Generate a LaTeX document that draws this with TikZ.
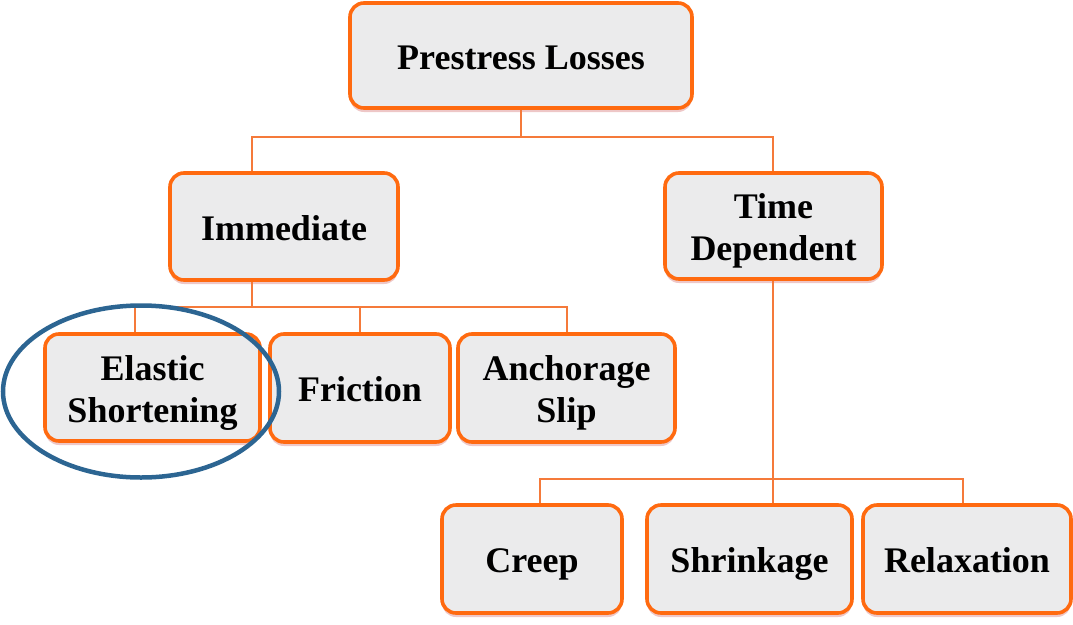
\documentclass[tikz,border=0pt]{standalone}
\usepackage{fontspec}
\setmainfont{Liberation Serif}
\usetikzlibrary{shadows}
\definecolor{boxorange}{HTML}{FF6A10}
\definecolor{lineorange}{HTML}{F57A3A}
\definecolor{boxfill}{HTML}{EBEBEC}
\definecolor{ringblue}{HTML}{2C6592}
\newcommand\tline[1]{\smash{#1}\rule[-1pt]{0pt}{29pt}}
\tikzset{
  box/.style={draw=boxorange, line width=3.6pt, fill=boxfill, rounded corners=14pt,
    align=center, inner sep=0pt, font=\fontsize{36}{42}\selectfont\bfseries,
    drop shadow={shadow xshift=0pt, shadow yshift=-4pt, fill=red!70!black, opacity=0.22}},
  conn/.style={draw=lineorange, line width=1.8pt},
  ring/.style={draw=ringblue, line width=4.5pt}
}
\begin{document}
\begin{tikzpicture}[x=1pt,y=-1pt]
\useasboundingbox (0,0) rectangle (1073,624);
% nodes
\node[box, minimum width=342pt, minimum height=105pt] (pl) at (521,55.5) {\tline{Prestress Losses}};
\node[box, minimum width=228pt, minimum height=107pt] (imm) at (284,226.5) {\tline{Immediate}};
\node[box, minimum width=217pt, minimum height=106pt] (td) at (773.5,226) {\tline{Time}\\\tline{Dependent}};
\node[box, minimum width=215pt, minimum height=107pt] (es) at (152.5,387.5) {\tline{Elastic}\\\tline{Shortening}};
\node[box, minimum width=180pt, minimum height=108pt] (fr) at (360,388) {\tline{Friction}};
\node[box, minimum width=217pt, minimum height=108pt] (as) at (566.5,388) {\tline{Anchorage}\\\tline{Slip}};
\node[box, minimum width=180pt, minimum height=108pt] (cr) at (532,559) {\tline{Creep}};
\node[box, minimum width=205pt, minimum height=108pt] (sh) at (749.5,559) {\tline{Shrinkage}};
\node[box, minimum width=208pt, minimum height=108pt] (rl) at (967,559) {\tline{Relaxation}};
% branch points
\coordinate (b1) at (521,137);
\coordinate (b2) at (252,307);
\coordinate (b3) at (773,479);
% connectors
\draw[conn] (pl.south) -- (b1);
\draw[conn] (b1) -| ([xshift=-32pt]imm.north);
\draw[conn] (b1) -| ([xshift=-0.5pt]td.north);
\draw[conn] ([xshift=-32pt]imm.south) -- (b2);
\draw[conn] (b2) -| ([xshift=-17.5pt]es.north);
\draw[conn] (b2) -| (fr.north);
\draw[conn] (b2) -| ([xshift=0.5pt]as.north);
\draw[conn] ([xshift=-0.5pt]td.south) -- (b3);
\draw[conn] (b3) -| ([xshift=8pt]cr.north);
\draw[conn] (b3) -- ([xshift=23.5pt]sh.north);
\draw[conn] (b3) -| ([xshift=-4pt]rl.north);
% highlight ring
\draw[ring] (141,391.5) ellipse [x radius=138pt, y radius=86pt];
\end{tikzpicture}
\end{document}
